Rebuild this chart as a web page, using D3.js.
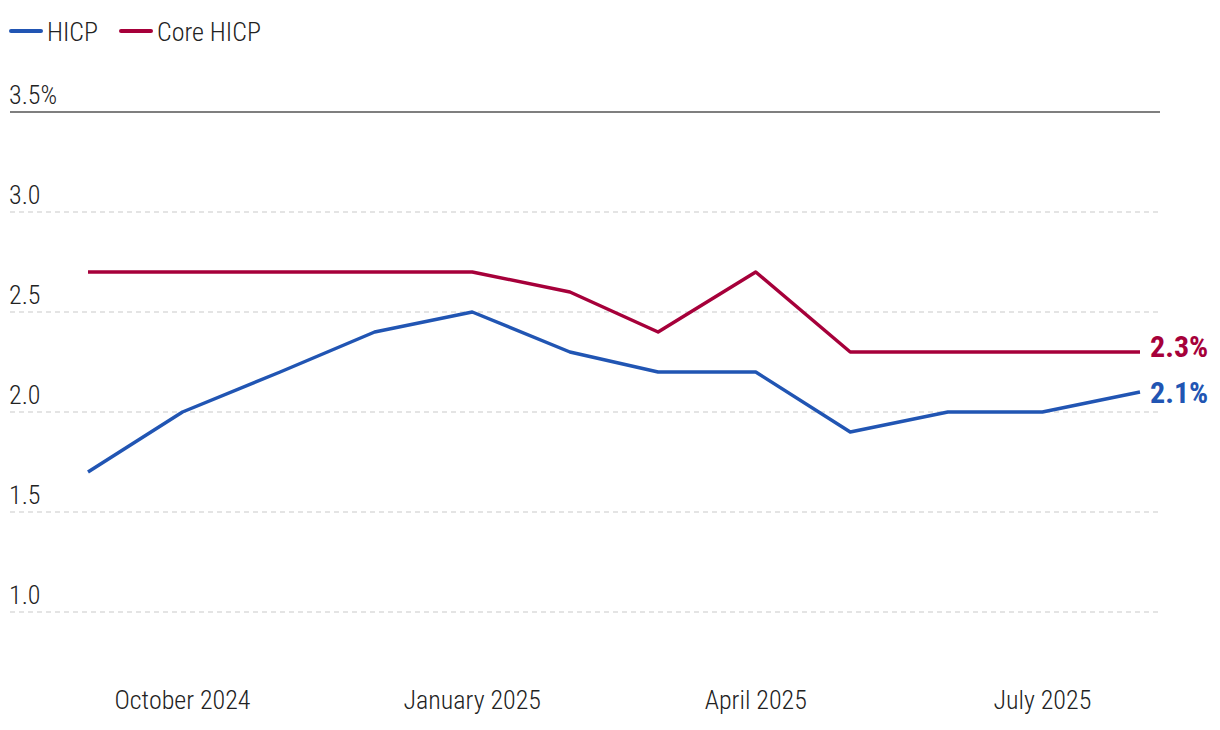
<!DOCTYPE html>
<html><head><meta charset="utf-8">
<script src="https://cdn.jsdelivr.net/npm/d3@7"></script>
<style>
body{margin:0;background:#fff;}
svg text{font-family:"Roboto Condensed",Roboto,sans-serif;font-stretch:condensed;font-weight:300;}
</style></head>
<body><svg id="c" width="1220" height="730"></svg>
<script>
const months = ["2024-09","2024-10","2024-11","2024-12","2025-01","2025-02","2025-03","2025-04","2025-05","2025-06","2025-07","2025-08"];
const hicp = [1.7,2.0,2.2,2.4,2.5,2.3,2.2,2.2,1.9,2.0,2.0,2.1];
const core = [2.7,2.7,2.7,2.7,2.7,2.6,2.4,2.7,2.3,2.3,2.3,2.3];
const yTicks = [1.0,1.5,2.0,2.5,3.0,3.5];
const xTicks = ["2024-10","2025-01","2025-04","2025-07"];
const xTickLabels = ["October 2024","January 2025","April 2025","July 2025"];
const seriesNames = ["HICP","Core HICP"];
const colors = ["#2155b3","#a6003a"];

const parse = d3.timeParse("%Y-%m");
const dates = months.map(parse);
const svg = d3.select("#c");
const x = d3.scaleTime().domain([dates[0], dates[dates.length-1]]).range([88,1140]);
const y = d3.scaleLinear().domain([1.0,3.5]).range([612,112]);

// gridlines
yTicks.forEach(t=>{
  svg.append("line").attr("x1",10).attr("x2",1160).attr("y1",y(t)).attr("y2",y(t))
    .attr("stroke", t===3.5 ? "#555" : "#dcdcdc")
    .attr("stroke-width", 1.3)
    .attr("stroke-dasharray", t===3.5?null:"5,4");
  svg.append("text").attr("x",9).attr("y",y(t)-8).attr("font-size",26).attr("fill","#222")
    .text(t===3.5 ? d3.format(".1f")(t)+"%" : d3.format(".1f")(t));
});

// x axis labels
xTicks.map(parse).forEach((d,i)=>{
  svg.append("text").attr("x",x(d)).attr("y",709).attr("text-anchor","middle")
    .attr("font-size",26).attr("fill","#222").text(xTickLabels[i]);
});

const line = d3.line().x((d,i)=>x(dates[i])).y(d=>y(d));
const endDy = [11, 5];
[hicp,core].forEach((s,k)=>{
  svg.append("path").datum(s).attr("d",line).attr("fill","none")
    .attr("stroke",colors[k]).attr("stroke-width",3.5).attr("stroke-linejoin","round");
  const last = s[s.length-1];
  svg.append("text").attr("x",1150).attr("y",y(last)+endDy[k]).attr("font-size",30)
    .style("font-weight","bold").attr("fill",colors[k]).text(d3.format(".1f")(last)+"%");
});

// legend
const leg = [{x:10,t:seriesNames[0]},{x:120,t:seriesNames[1]}];
leg.forEach((l,k)=>{
  svg.append("line").attr("x1",l.x+1).attr("x2",l.x+31).attr("y1",31).attr("y2",31)
    .attr("stroke",colors[k]).attr("stroke-width",4).attr("stroke-linecap","round");
  svg.append("text").attr("x",l.x+37).attr("y",41).attr("font-size",26).attr("fill","#222").text(l.t);
});
</script></body></html>
